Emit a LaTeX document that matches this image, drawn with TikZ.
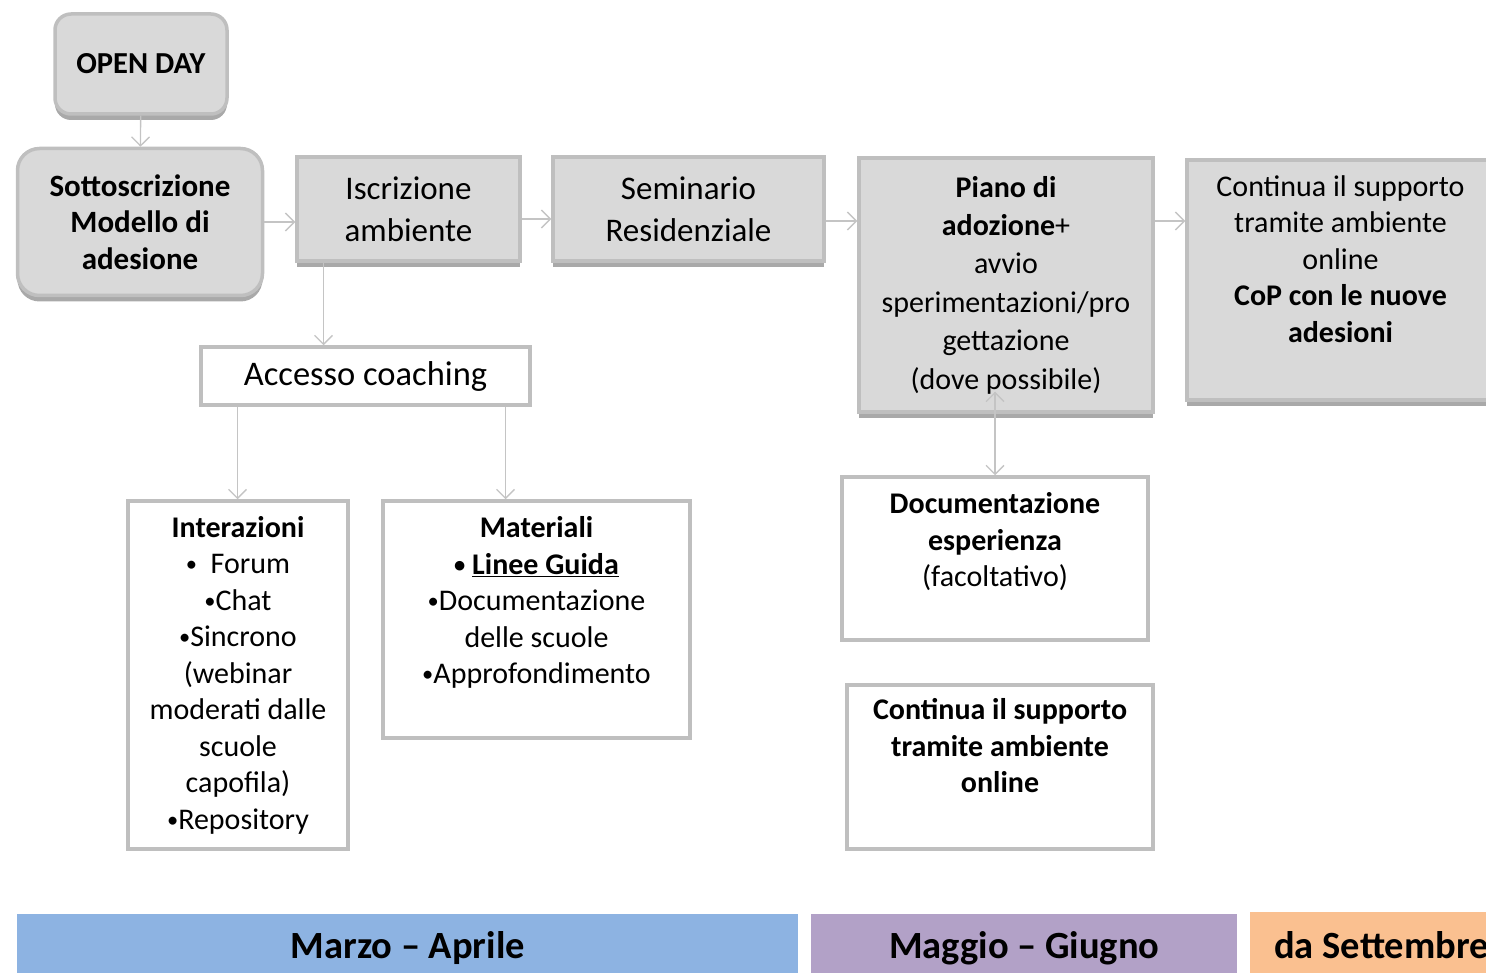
\documentclass[tikz,border=0pt]{standalone}
\usepackage{fontspec}
\setmainfont{Carlito}
\usepackage{xcolor}
\usepackage{tikz}
\usetikzlibrary{arrows.meta,shadows}
\usetikzlibrary{calc}
\usetikzlibrary{positioning}

\definecolor{boxgray}{HTML}{D9D9D9}
\definecolor{edgegray}{HTML}{BFBFBF}
\definecolor{arrowgray}{HTML}{C4C4C4}
\definecolor{shadowgray}{HTML}{A9A9A9}
\definecolor{barblue}{HTML}{8DB3E2}
\definecolor{barviolet}{HTML}{B2A1C7}
\definecolor{barorange}{HTML}{FAC090}

\newcommand{\bul}{\raisebox{0.12ex}{\scalebox{0.75}{•}}}

\begin{document}
\begin{tikzpicture}[x=1pt,y=-1pt,>={Straight Barb[length=9pt,width=18pt]},semithick]
 				 \tikzstyle{graybox}=[draw=edgegray, line width=3.5pt, fill=boxgray, align=center,
 				 		drop shadow={shadow xshift=0pt, shadow yshift=-6pt, fill=shadowgray, opacity=1}]
 				 \tikzstyle{whitebox}=[draw=edgegray, line width=3.5pt, fill=white, align=center]
 				 \tikzstyle{boxtext}=[align=center, inner sep=0pt, font=\fontsize{30}{36.5}\selectfont]
 				 \tikzstyle{bigtext}=[font=\fontsize{33}{42}\selectfont]
 				 \tikzstyle{bar}=[minimum height=68, anchor=north west, inner sep=0pt, font=\fontsize{38.5}{44}\selectfont\bfseries]
 				 \tikzstyle{flow}=[->, draw=arrowgray, line width=1.3pt]

 				 \useasboundingbox (0,0) rectangle (1486,973);
 				 \clip (0,0) rectangle (1486,973);

 					 % flow along the top
 					 \node[graybox, rounded corners=16, minimum width=172, minimum height=100, font=\fontsize{30.5}{35}\selectfont]
 					 		(openday) at (141,64) {\textbf{OPEN DAY}};
 					 \node[graybox, rounded corners=22, minimum width=245, minimum height=147, font=\fontsize{31}{36.5}\selectfont]
 					 		(sotto) at (140,222) {\textbf{Sottoscrizione}\\\textbf{Modello di}\\\textbf{adesione}};
 					 \node[graybox, bigtext, minimum width=223, minimum height=104] (iscr) at (408.5,209) {Iscrizione\\ambiente};
 					 \node[graybox, bigtext, minimum width=271, minimum height=104] (semin) at (688.5,209) {Seminario\\Residenziale};
 					 \node[graybox, minimum width=294, minimum height=254, font=\fontsize{30}{38.4}\selectfont]
 					 		(piano) at (1006,285) {\textbf{Piano di}\\\textbf{adozione}+\\avvio\\sperimentazioni/pro\\gettazione\\(dove possibile)};
 					 \node[graybox, minimum width=307, minimum height=240] (contA) at (1340.5,280) {};
 					 \node[boxtext, below=17pt of contA.north] (contAtext)
 					 		{Continua il supporto\\tramite ambiente\\online\\\textbf{CoP con le nuove}\\\textbf{adesioni}};

 					 % coaching
 					 \node[whitebox, minimum width=329, minimum height=58, font=\fontsize{34.5}{42}\selectfont] (accesso) at (365.5,376) {Accesso coaching};
 					 \node[whitebox, boxtext, minimum width=220, minimum height=348] (inter) at (238,675)
 					 		{\textbf{Interazioni}\\\bul\ \ Forum\\\bul Chat\\\bul Sincrono\\(webinar\\moderati dalle\\scuole\\capofila)\\\bul Repository};
 					 \node[whitebox, minimum width=307, minimum height=237] (mater) at (536.5,619.5) {};
 					 \node[boxtext, below=17pt of mater.north] (matertext)
 					 		{\textbf{Materiali}\\\textbf{\bul} \underline{\textbf{Linee Guida}}\\\bul Documentazione\\delle scuole\\\bul Approfondimento};

 					 % documentazione e supporto
 					 \node[whitebox, minimum width=306, minimum height=163] (doc) at (995,558.5) {};
 					 \node[boxtext, below=17pt of doc.north] (doctext)
 					 		{\textbf{Documentazione}\\\textbf{esperienza}\\(facoltativo)};
 					 \node[whitebox, minimum width=306, minimum height=164] (contB) at (1000,767) {};
 					 \node[boxtext, below=15pt of contB.north] (contBtext)
 					 		{\textbf{Continua il supporto}\\\textbf{tramite ambiente}\\\textbf{online}};

 					 % periodi
 					 \node[bar, fill=barblue, minimum width=781] (marzo) at (17,914) {Marzo – Aprile};
 					 \node[bar, fill=barviolet, minimum width=426] (maggio) at (811,914) {Maggio – Giugno};
 					 \node[bar, fill=barorange, minimum width=300, minimum height=70] (sett) at (1250,912) {};
 					 \node[font=\fontsize{38.5}{44}\selectfont\bfseries, anchor=west, inner sep=0pt] (setttext)
 					 		at ($(sett.west)+(24,-2)$) {da Settembre};

 					 \path[flow]
 					 			(openday) edge (sotto)
 					 			(sotto.east) edge (sotto.east -| iscr.west)
 					 			([yshift=-10pt]iscr.east) edge ([yshift=-10pt]iscr.east -| semin.west)
 					 			([yshift=-12pt]semin.east) edge ([yshift=-12pt]semin.east -| piano.west)
 					 			([yshift=-12pt]semin.east -| piano.east) edge ([yshift=-12pt]semin.east -| contA.west)
 					 			([xshift=-85pt]iscr.south) edge ([xshift=-85pt]iscr.south |- accesso.north)
 					 			([xshift=-128pt]accesso.south) edge ([xshift=-128pt]accesso.south |- inter.north)
 					 			([xshift=140pt]accesso.south) edge ([xshift=140pt]accesso.south |- mater.north)
 					 			([yshift=22pt]doc.north |- piano.south) edge (doc.north);
				\end{tikzpicture}
\end{document}
